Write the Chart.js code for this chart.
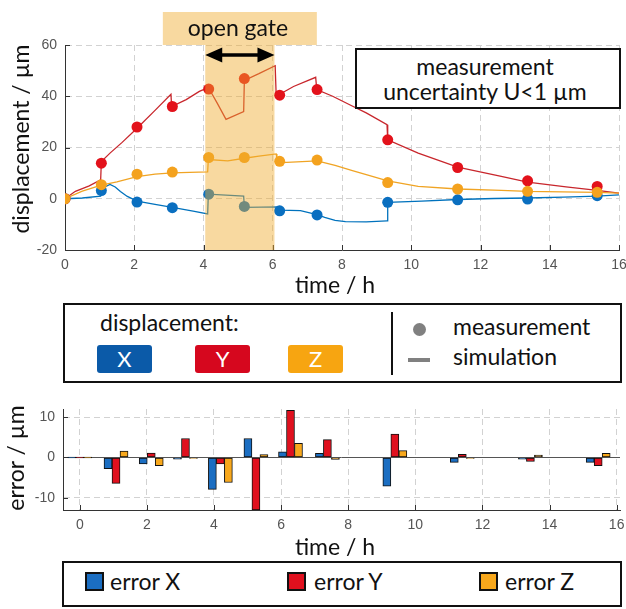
<!DOCTYPE html>
<html>
<head>
<meta charset="utf-8">
<script src="https://cdn.jsdelivr.net/npm/chart.js@4"></script>
<style>
  body { margin: 0; background: #fff; }
  #pagina { position: relative; width: 626px; height: 609px; overflow: hidden; font-family: Lato, sans-serif; color: #111; }
  canvas { position: absolute; left: 0; }
  .txt { position: absolute; font-size: 23px; line-height: 1; white-space: nowrap; }
  .centro { transform: translateX(-50%); }
  .vert { transform: translate(-50%, -50%) rotate(-90deg); }
  .caixa { position: absolute; border: 2px solid #111; box-sizing: border-box; background: #fff; }
  .cor { position: absolute; top: 345px; width: 55px; height: 28px; border-radius: 3px; color: #fff;
         display: flex; align-items: center; justify-content: center; font-size: 22px; line-height: 1; }
  .quad { position: absolute; top: 572px; width: 19px; height: 19px; border: 2px solid #111; box-sizing: border-box; }
</style>
</head>
<body>
<div id="pagina">
  <canvas id="grafico" width="626" height="300" style="top:0"></canvas>
  <canvas id="graficoErro" width="626" height="170" style="top:390px"></canvas>

  <!-- textos do grafico de deslocamento -->
  <div class="txt centro" style="left:238px;top:16px">open gate</div>
  <div class="caixa" style="left:355px;top:48px;width:266px;height:61px"></div>
  <div class="txt centro" style="left:485px;top:55px">measurement</div>
  <div class="txt centro" style="left:485px;top:80px">uncertainty U&lt;1 µm</div>
  <div class="txt vert" style="left:20px;top:139px">displacement / µm</div>
  <div class="txt centro" style="left:335px;top:273px">time / h</div>

  <!-- legenda do meio -->
  <div class="caixa" style="left:63px;top:303px;width:559px;height:80px"></div>
  <div class="txt" style="left:100px;top:311px">displacement:</div>
  <div class="cor" style="left:97px;background:#0b5aa8">X</div>
  <div class="cor" style="left:195px;background:#d6071e">Y</div>
  <div class="cor" style="left:288px;background:#f7a511">Z</div>
  <div style="position:absolute;left:391px;top:312px;width:2px;height:63px;background:#111"></div>
  <div style="position:absolute;left:413px;top:323px;width:13px;height:13px;border-radius:50%;background:#808080"></div>
  <div style="position:absolute;left:408px;top:358px;width:22px;height:4px;background:#808080"></div>
  <div class="txt" style="left:453px;top:315px">measurement</div>
  <div class="txt" style="left:453px;top:345px">simulation</div>

  <!-- textos do grafico de erro -->
  <div class="txt vert" style="left:15px;top:458px">error / µm</div>
  <div class="txt centro" style="left:335px;top:535px">time / h</div>

  <!-- legenda de baixo -->
  <div class="caixa" style="left:62px;top:561px;width:560px;height:46px"></div>
  <div class="quad" style="left:85px;background:#1b6ec2"></div>
  <div class="txt" style="left:110px;top:570px">error X</div>
  <div class="quad" style="left:287px;background:#e0101e"></div>
  <div class="txt" style="left:314px;top:570px">error Y</div>
  <div class="quad" style="left:479px;background:#f8a81c"></div>
  <div class="txt" style="left:505px;top:570px">error Z</div>
</div>

<script>
// medições (h, µm)
const tempoMedicao = [0, 1.05, 2.08, 3.1, 4.15, 5.18, 6.2, 7.28, 9.32, 11.34, 13.36, 15.37];
const medidoX = [0, 3.2, -1.3, -3.5, 1.8, -3.0, -4.7, -6.3, -1.4, -0.4, -0.1, 1.2];
const medidoY = [0, 13.9, 28, 36, 42.8, 46.9, 40.4, 42.6, 23, 12.2, 7.0, 4.8];
const medidoZ = [0, 5.5, 9.6, 10.4, 16.1, 16.1, 14.6, 15.1, 6.3, 3.8, 2.9, 2.5];

// simulação, cada eixo com seus tempos (saltos repetem o tempo)
const tempoSimX = [0, 0.5, 1.03, 1.05, 1.15, 1.3, 1.45, 1.6, 1.8, 2.08, 2.6, 3.1, 3.7, 4.12, 4.14, 5.16, 5.18, 6.18, 6.2, 6.8,
                   7.28, 7.5, 7.8, 8.1, 8.7, 9.3, 9.32, 10.3, 11.34, 12.4, 13.36, 14.4, 15.37, 16];
const simX = [0, 0.3, 1.0, 3.2, 4.6, 5.6, 4.6, 2.8, 0.9, -0.9, -2.2, -3.4, -4.8, -5.9, 1.8, 1.0, -3.4, -3.2, -4.4, -4.6,
              -6.2, -7.3, -8.4, -8.9, -9.0, -8.6, -1.4, -0.9, -0.3, 0.1, 0.3, 0.6, 1.0, 1.5];
const tempoSimY = [0, 0.3, 0.7, 1.03, 1.05, 1.3, 1.65, 2.08, 2.6, 3.06, 3.08, 3.5, 3.88, 4.14, 4.4, 4.65, 5.16, 5.18, 5.6, 6.07,
                   6.1, 6.6, 7.24, 7.27, 7.73, 8.28, 8.7, 9.3, 9.32, 10.2, 11.34, 12.6, 13.36, 14.47, 15.37, 16];
const simY = [0, 2.9, 5.0, 7.4, 14.5, 17.8, 22, 27.5, 34.5, 40.8, 36, 38.7, 41.9, 43.4, 37.2, 31, 34, 46.2, 48.8, 51.9,
              40, 43.8, 47.4, 42.6, 40, 36.3, 33.5, 28.9, 23, 17.8, 12.3, 8.7, 6.5, 4.6, 3.3, 2.2];
const tempoSimZ = [0, 0.5, 1.05, 1.5, 2.08, 2.6, 3.1, 3.6, 4.12, 4.14, 4.7, 5.18, 5.6, 6.1, 6.12, 6.7, 7.28, 7.8, 8.3, 8.8,
                   9.32, 10.2, 11.34, 12.6, 13.36, 15.37, 16];
const simZ = [0, 3.0, 5.3, 6.6, 8.6, 9.6, 10.1, 10.3, 10.5, 15.3, 14.8, 15.8, 16.6, 17.5, 14.0, 14.4, 14.8, 13.0, 11.0, 9.0,
              7.0, 4.8, 3.8, 3.3, 2.9, 2.5, 2.2];

// erro simulação - medição
const tempoErro = [0, 1.08, 2.13, 3.15, 4.19, 5.25, 6.28, 7.38, 9.39, 11.4, 13.43, 15.45];
const erroX = [0, -2.8, -1.6, -0.4, -7.9, 4.7, 1.4, 1.0, -7.1, -1.2, -0.4, -1.2];
const erroY = [0, -6.4, 1.1, 4.7, -1.6, -13, 11.7, 4.4, 5.8, 0.8, -1.0, -2.0];
const erroZ = [0, 1.6, -2.0, -0.1, -6.2, 0.7, 3.5, -0.5, 1.7, -0.2, 0.6, 1.0];

// portão aberto (h)
const inicioPortao = 4.05;
const fimPortao = 6.05;

const corGrade = '#d2d2d2';
const corEixo = '#333';
const corTexto = '#555';

Chart.defaults.font.family = "'Liberation Sans', Arial, sans-serif";
Chart.defaults.font.size = 14;

function pontos(ts, vs) {
  return ts.map((t, i) => ({x: t, y: vs[i]}));
}

// tracinhos para dentro nos eixos
const marcasInternas = {
  id: 'marcasInternas',
  beforeDatasetsDraw(chart) {
    const {ctx, chartArea: a, scales: {x, y}} = chart;
    ctx.save();
    ctx.strokeStyle = corEixo;
    ctx.lineWidth = 1;
    ctx.beginPath();
    x.ticks.forEach(t => {
      const px = Math.round(x.getPixelForValue(t.value)) + 0.5;
      ctx.moveTo(px, a.bottom);
      ctx.lineTo(px, a.bottom - 5);
    });
    y.ticks.forEach(t => {
      const py = Math.round(y.getPixelForValue(t.value)) + 0.5;
      ctx.moveTo(a.left, py);
      ctx.lineTo(a.left + 5, py);
    });
    ctx.stroke();
    ctx.restore();
  }
};

// faixa do portão + rótulo + seta
const portaoAberto = {
  id: 'portaoAberto',
  afterDatasetsDraw(chart) {
    const {ctx, chartArea: a, scales: {x}} = chart;
    const x1 = x.getPixelForValue(inicioPortao);
    const x2 = x.getPixelForValue(fimPortao);
    const meio = (x1 + x2) / 2;
    ctx.save();
    ctx.fillStyle = 'rgba(240,170,45,0.45)';
    ctx.fillRect(x1, a.top, x2 - x1, a.bottom - a.top);
    ctx.fillRect(meio - 77, 12, 154, a.top - 12);

    const ys = a.top + 10;
    ctx.strokeStyle = '#000';
    ctx.fillStyle = '#000';
    ctx.lineWidth = 3.5;
    ctx.beginPath();
    ctx.moveTo(x1 + 10, ys);
    ctx.lineTo(x2 - 10, ys);
    ctx.stroke();
    ctx.beginPath();
    ctx.moveTo(x1, ys);
    ctx.lineTo(x1 + 17, ys - 7.5);
    ctx.lineTo(x1 + 17, ys + 7.5);
    ctx.closePath();
    ctx.moveTo(x2, ys);
    ctx.lineTo(x2 - 17, ys - 7.5);
    ctx.lineTo(x2 - 17, ys + 7.5);
    ctx.closePath();
    ctx.fill();
    ctx.restore();
  }
};

// linha do zero no gráfico de erro
const linhaZero = {
  id: 'linhaZero',
  beforeDatasetsDraw(chart) {
    const {ctx, chartArea: a, scales: {y}} = chart;
    const py = Math.round(y.getPixelForValue(0)) + 0.5;
    ctx.save();
    ctx.strokeStyle = '#555';
    ctx.lineWidth = 1;
    ctx.beginPath();
    ctx.moveTo(a.left, py);
    ctx.lineTo(a.right, py);
    ctx.stroke();
    ctx.restore();
  }
};

function eixoX(min, max) {
  return {
    type: 'linear', min: min, max: max, offset: false,
    afterFit: s => { s.height = 50; s.paddingLeft = 0; s.paddingRight = 0; },
    ticks: { stepSize: 2, includeBounds: false, padding: 7, color: corTexto, autoSkip: false, maxRotation: 0 },
    grid: { color: corGrade, drawTicks: false, offset: false },
    border: { color: corEixo, dash: [6, 4] }
  };
}

function eixoY(min, max, passo, largura) {
  return {
    type: 'linear', min: min, max: max,
    afterFit: s => { s.width = largura; s.paddingTop = 0; s.paddingBottom = 0; },
    ticks: { stepSize: passo, includeBounds: false, padding: 8, color: corTexto },
    grid: { color: corGrade, drawTicks: false },
    border: { color: corEixo, dash: [6, 4] }
  };
}

function linhaSim(ts, vs, cor) {
  return { data: pontos(ts, vs), showLine: true, borderColor: cor, borderWidth: 1.3,
           pointRadius: 0, order: 5 };
}
function medicao(vs, cor, ordem) {
  return { data: pontos(tempoMedicao, vs), backgroundColor: cor, borderWidth: 0,
           pointRadius: 5.5, order: ordem };
}

new Chart(document.getElementById('grafico'), {
  type: 'scatter',
  data: {
    datasets: [
      linhaSim(tempoSimX, simX, '#0072bd'),
      linhaSim(tempoSimZ, simZ, '#f0a424'),
      linhaSim(tempoSimY, simY, '#c8262c'),
      medicao(medidoX, '#0a6fc0', 2),
      medicao(medidoY, '#e3121b', 1),
      medicao(medidoZ, '#f4a21e', 0)
    ]
  },
  options: {
    responsive: false,
    animation: false,
    layout: { padding: { top: 45, right: 7, left: 0, bottom: 0 } },
    plugins: { legend: { display: false }, tooltip: { enabled: false } },
    scales: {
      x: eixoX(0, 16),
      y: eixoY(-20, 60, 20, 65)
    }
  },
  plugins: [marcasInternas, portaoAberto]
});

function barras(vs, cor) {
  return { data: pontos(tempoErro, vs), backgroundColor: cor, borderColor: '#111', borderWidth: 1,
           borderSkipped: false, barThickness: 8, minBarLength: 1 };
}

new Chart(document.getElementById('graficoErro'), {
  type: 'bar',
  data: {
    datasets: [
      barras(erroX, '#1b6ec2'),
      barras(erroY, '#e0101e'),
      barras(erroZ, '#f8a81c')
    ]
  },
  options: {
    responsive: false,
    animation: false,
    layout: { padding: { top: 19, right: 6, left: 0, bottom: 0 } },
    plugins: { legend: { display: false }, tooltip: { enabled: false } },
    scales: {
      x: eixoX(-0.5, 16.1),
      y: eixoY(-13, 12, 10, 63)
    }
  },
  plugins: [linhaZero, marcasInternas]
});
</script>
</body>
</html>
